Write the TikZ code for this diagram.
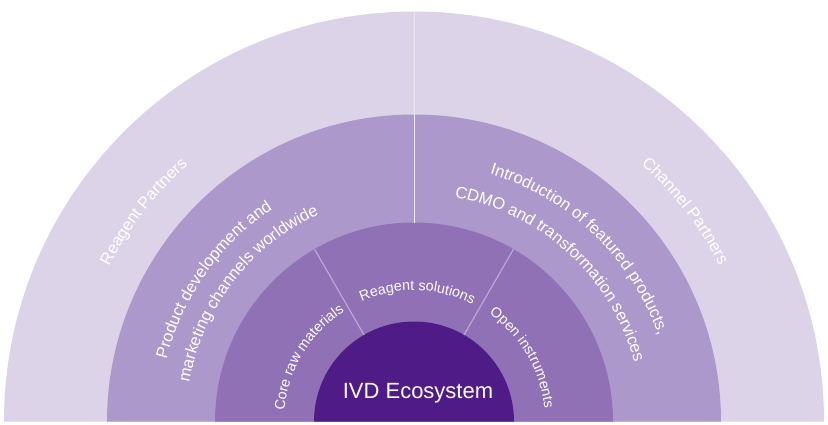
\documentclass[tikz,border=0pt]{standalone}
\usepackage{fontspec}
\setmainfont{Liberation Sans}
\usetikzlibrary{decorations.text}
\definecolor{ringA}{HTML}{DCD3E8}
\definecolor{ringB}{HTML}{AD98CB}
\definecolor{ringC}{HTML}{9071B6}
\definecolor{coreC}{HTML}{4F1C87}
\definecolor{lineA}{HTML}{EDE7F4}
\definecolor{lineB}{HTML}{BBA8D6}
\newcommand\fOut{\fontsize{16.5}{18}\selectfont\color{white}}
\newcommand\fMid{\fontsize{16.5}{18}\selectfont\color{white}}
\newcommand\fIn{\fontsize{14.3}{16}\selectfont\color{white}}
% radius, centre angle, half span, format, text
\newcommand\arctxt[5]{%
  \path[decorate,decoration={text along path,text align=center,
    text={|#4|#5}}]
    (O) ++(#2+#3:#1) arc[start angle=#2+#3,end angle=#2-#3,radius=#1];}
\begin{document}
\begin{tikzpicture}[x=1pt,y=1pt]
\useasboundingbox (0,0) rectangle (828,424);
\fill[white] (0,0) rectangle (828,424);
\coordinate (O) at (414,2.5);
\fill[ringA] (O) ++(410,0) arc[start angle=0,end angle=180,radius=410] -- cycle;
\fill[ringB] (O) ++(307,0) arc[start angle=0,end angle=180,radius=307] -- cycle;
\fill[ringC] (O) ++(199,0) arc[start angle=0,end angle=180,radius=199] -- cycle;
\fill[coreC] (O) ++(100,0) arc[start angle=0,end angle=180,radius=100] -- cycle;
% dividers
\draw[lineA,line width=0.8pt] (O) ++(0,199) -- ++(0,211);
\draw[lineB,line width=1.2pt] (O) ++(60:100) -- ++(60:99);
\draw[lineB,line width=1.2pt] (O) ++(120:100) -- ++(120:99);
% outer ring texts
\arctxt{342}{142.2}{30}{\fOut}{Reagent Partners}
\arctxt{343}{37.8}{30}{\fOut}{Channel Partners}
% middle ring texts
\arctxt{255}{144.8}{40}{\fMid}{Product development and}
\arctxt{228}{142.4}{45}{\fMid}{marketing channels worldwide}
\arctxt{259}{46.2}{40}{\fMid}{Introduction of featured products,}
\arctxt{228}{47.4}{45}{\fMid}{CDMO and transformation services}
% inner ring texts
\arctxt{130}{148.8}{40}{\fIn}{Core raw materials}
\arctxt{131}{88.5}{40}{\fIn}{Reagent solutions}
\arctxt{131}{30.4}{40}{\fIn}{Open instruments}
\node[anchor=base,text=white,font=\fontsize{22}{24}\selectfont,inner sep=0pt] (ivd) at (418,26) {IVD Ecosystem};
\end{tikzpicture}
\end{document}
